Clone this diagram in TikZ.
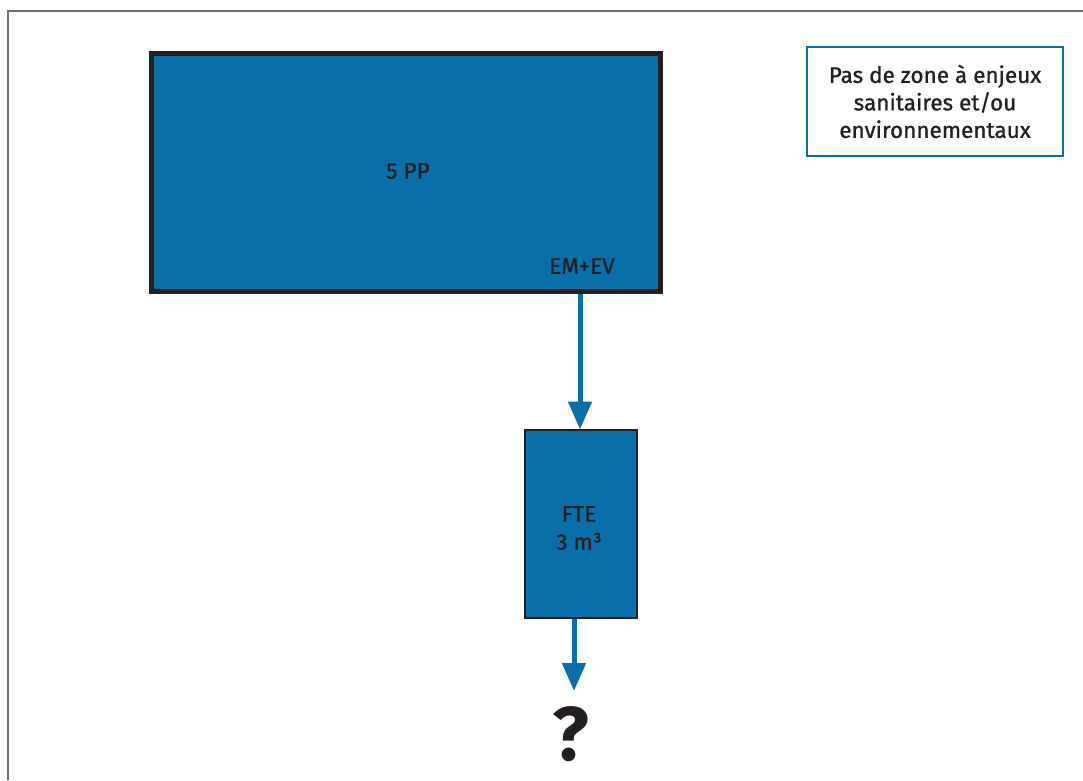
\documentclass[tikz,border=0pt]{standalone}
\usepackage{fontspec}
\setmainfont{Fira Sans}
\newfontfamily\lblfont[FakeBold=0.9]{Fira Sans}
\usetikzlibrary{arrows.meta}
\definecolor{myblue}{HTML}{0A6EA8}
\definecolor{ink}{HTML}{231F20}
\definecolor{framegray}{HTML}{707070}
\begin{document}
\begin{tikzpicture}[x=1pt,y=-1pt,
  bigbox/.style={draw=ink,fill=myblue,line width=5pt,inner sep=0pt},
  smallbox/.style={draw=ink,fill=myblue,line width=2pt,inner sep=0pt},
  notebox/.style={draw=myblue,fill=white,line width=2pt,inner sep=0pt,align=center,text=ink,font=\lblfont\fontsize{22.5}{27.5}\selectfont},
  lbl/.style={text=ink,font=\lblfont\fontsize{22.5}{28}\selectfont,align=center},
  flow/.style={draw=myblue,line width=5pt,-{Triangle[length=28pt,width=23pt]},shorten >=-1pt}]
\useasboundingbox (0,0) rectangle (1083,780);
\draw[framegray,line width=2pt] (8,780) -- (8,11) -- (1083,11);
\node[bigbox,minimum width=509pt,minimum height=238pt] (pp) at (406,172.5) {};
\node[lbl] (pptxt) at (408,171) {5 PP};
\node[lbl] (em) at (582,266) {EM+EV};
\node[notebox,minimum width=256pt,minimum height=109pt] (note) at (935,101.5) {Pas de zone à enjeux\\sanitaires et/ou\\environnementaux};
\node[smallbox,minimum width=112pt,minimum height=188pt] (fte) at (580.5,523.5) {};
\node[lbl] (ftetxt) at (579,528) {FTE\\3 m³};
\coordinate (a1s) at (580,294);
\draw[flow] (a1s) -- (fte.north -| a1s);
\node[text=ink,inner sep=0pt,anchor=base,font=\fontsize{76}{76}\selectfont\bfseries] (q) at (571,760) {?};
\coordinate (a2s) at (574,619);
\coordinate (a2e) at (574,690);
\draw[flow] (a2s) -- (a2e);
\end{tikzpicture}
\end{document}
